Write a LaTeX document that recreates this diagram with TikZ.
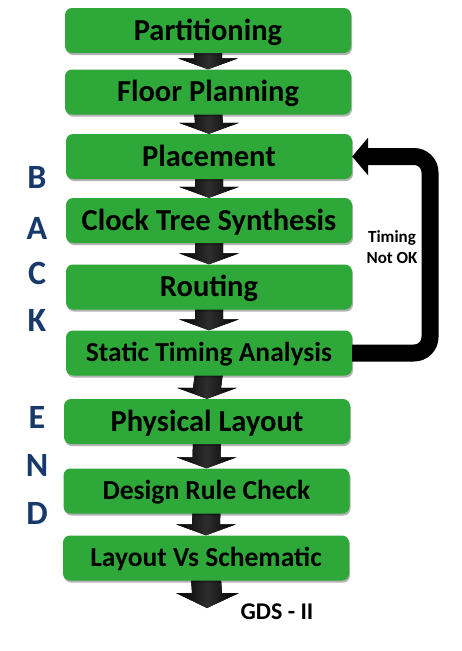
\documentclass[tikz,border=0pt]{standalone}
\usepackage{fontspec}
\setmainfont{Carlito}
\usetikzlibrary{calc,shadows,backgrounds}
\definecolor{boxgreen}{HTML}{2FA83A}
\definecolor{navy}{HTML}{17396B}
\newcommand\blockarr[2]{%
  \fill[arrfill] ($(#1.south)+(-14,-3)$) -- ($(#2.north)+(-14,-11)$) --
    ($(#2.north)+(-30,-11)$) -- (#2.north) -- ($(#2.north)+(30,-11)$) --
    ($(#2.north)+(14,-11)$) -- ($(#1.south)+(14,-3)$) -- cycle;}
\begin{document}
\begin{tikzpicture}[x=1pt,y=-1pt,
  stage/.style={draw=none, fill=boxgreen, rounded corners=7pt,
    minimum width=286pt, minimum height=45pt, inner sep=0pt,
    text height=19.3pt, text depth=0pt,
    font=\fontsize{30.5}{32}\selectfont\bfseries,
    drop shadow={shadow xshift=1pt, shadow yshift=-2pt, opacity=.3, fill=black}},
  stagesmall/.style={stage, text height=17.4pt,
    font=\fontsize{27.5}{29}\selectfont\bfseries},
  arrfill/.style={left color=black, right color=black, middle color=black!82},
  sideletter/.style={text=navy, font=\fontsize{34}{36}\selectfont\bfseries, inner sep=0pt},
  feedback/.style={draw=black, line width=17pt, rounded corners=16pt},
  lbl/.style={font=\fontsize{17}{21}\selectfont\bfseries, align=center, inner sep=0pt}]
\useasboundingbox (0,0) rectangle (462,651);

% stages
\node[stage] (part) at (208,30.5) {Partitioning};
\node[stage] (floor) at (208,92) {Floor Planning};
\node[stage] (place) at (209,156.5) {Placement};
\node[stage] (cts) at (209,220.5) {Clock Tree Synthesis};
\node[stage] (route) at (209,287) {Routing};
\node[stagesmall] (sta) at (209,353) {Static Timing Analysis};
\node[stage] (phys) at (207,421.5) {Physical Layout};
\node[stagesmall] (drc) at (206.5,491) {Design Rule Check};
\node[stagesmall] (lvs) at (206,558) {Layout Vs Schematic};
\coordinate (gdstip) at (207,608);

% block arrows behind the boxes
\begin{pgfonlayer}{background}
\blockarr{part}{floor}
\blockarr{floor}{place}
\blockarr{place}{cts}
\blockarr{cts}{route}
\blockarr{route}{sta}
\blockarr{sta}{phys}
\blockarr{phys}{drc}
\blockarr{drc}{lvs}
\fill[arrfill] ($(lvs.south)+(-15,-2)$) -- ($(gdstip)+(-15,-15)$) --
  ($(gdstip)+(-31,-15)$) -- (gdstip) -- ($(gdstip)+(32,-15)$) --
  ($(gdstip)+(15,-15)$) -- ($(lvs.south)+(15,-2)$) -- cycle;
\end{pgfonlayer}

% feedback loop
\coordinate (fbend) at ($(place.east)+(14,0)$);
\draw[feedback] (sta.east) -- (430,353) |- (fbend);
\fill[black] (place.east) -- ($(place.east)+(16,-19)$) -- ($(place.east)+(16,19)$) -- cycle;
\node[lbl] (tnok) at (392,247) {Timing\\Not OK};

\node[font=\fontsize{24}{26}\selectfont\bfseries, inner sep=0pt] (gds) at (277,612) {GDS - II};

% side letters
\node[sideletter] (lB) at (37,177) {B};
\node[sideletter] (lA) at (37,228) {A};
\node[sideletter] (lC) at (37,273) {C};
\node[sideletter] (lK) at (37,320) {K};
\node[sideletter] (lE) at (37,417) {E};
\node[sideletter] (lN) at (37,465) {N};
\node[sideletter] (lD) at (37,513) {D};
\end{tikzpicture}
\end{document}
